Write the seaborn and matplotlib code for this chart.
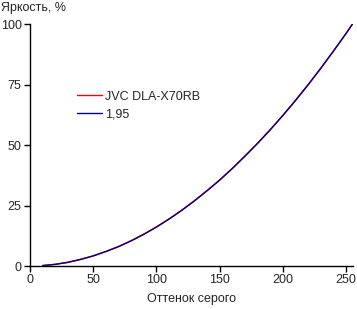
import matplotlib
matplotlib.use('Agg')
import matplotlib.pyplot as plt
import seaborn as sns
import pandas as pd

# gray level (0..255) vs brightness, %
gray = [10, 20, 30, 40, 50, 60, 70, 80, 90, 100, 110, 120, 130, 140, 150,
        160, 170, 180, 190, 200, 210, 220, 230, 240, 250, 255]
jvc = [0.2, 0.7, 1.6, 2.8, 4.2, 6.0, 8.1, 10.5, 13.2, 16.2, 19.5, 23.1, 27.0,
       31.2, 35.6, 40.4, 45.5, 50.8, 56.4, 62.2, 68.4, 74.9, 81.7, 88.8, 96.1, 100.0]
gamma_195 = [0.2, 0.7, 1.5, 2.7, 4.2, 6.0, 8.0, 10.4, 13.1, 16.1, 19.4, 23.0, 26.9,
             31.1, 35.5, 40.3, 45.4, 50.7, 56.3, 62.3, 68.5, 75.0, 81.8, 88.9, 96.2, 100.0]
series_names = ['JVC DLA-X70RB', '1,95']

df = pd.DataFrame({'gray': gray * 2,
                   'value': jvc + gamma_195,
                   'series': [series_names[0]] * len(gray) + [series_names[1]] * len(gray)})

sns.set_style('ticks')
plt.rcParams['font.family'] = ['Liberation Sans', 'DejaVu Sans']

fig = plt.figure(figsize=(3.57, 3.09), dpi=100)
ax = fig.add_axes([0.084, 0.139, 0.905, 0.783])

sns.lineplot(data=df, x='gray', y='value', hue='series', ax=ax,
             palette=['#ff0000', '#000080'], linewidth=1.0, legend=True)

ax.set_xlim(0, 255.5)
ax.set_ylim(0, 100)
ax.set_xticks([0, 50, 100, 150, 200, 250])
ax.set_yticks([0, 25, 50, 75, 100])
ax.tick_params(labelsize=9, length=4, width=1, color='black', direction='out', pad=2)
for s in ['left', 'bottom']:
    ax.spines[s].set_color('black')
    ax.spines[s].set_linewidth(1)
sns.despine(ax=ax)

ax.set_xlabel('Оттенок серого', fontsize=9, labelpad=5)
ax.set_ylabel('')
fig.text(0.003, 0.995, 'Яркость, %', fontsize=9, ha='left', va='top')

leg = ax.legend(loc='upper left', bbox_to_anchor=(0.111, 0.771), frameon=False,
                fontsize=9, handlelength=2.0, handletextpad=0.2, labelspacing=0.43)

fig.savefig('out.png', dpi=100)
